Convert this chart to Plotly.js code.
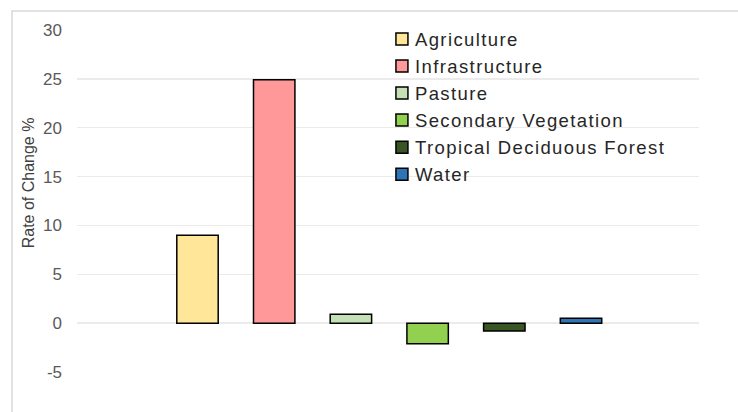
<!DOCTYPE html>
<html>
<head>
<meta charset="utf-8">
<script src="https://cdn.plot.ly/plotly-3.0.1.min.js"></script>
<style>
  html, body { margin: 0; padding: 0; background: #ffffff; }
  #chart { width: 738px; height: 412px; }
  .legendtext { letter-spacing: 1.4px; }
  g.legendsymbols { transform: translateX(7px); }
</style>
</head>
<body>
<div id="chart"></div>
<script>
// Land-cover classes and their rate of change (%)
const categories = ['Agriculture', 'Infrastructure', 'Pasture', 'Secondary Vegetation', 'Tropical Deciduous Forest', 'Water'];
const rateOfChange = [9.0, 24.9, 0.9, -2.1, -0.8, 0.5];
const barColors = ['#FFE699', '#FF9999', '#C5E0B4', '#92D050', '#375623', '#2E75B6'];
const yTicks = [-5, 0, 5, 10, 15, 20, 25, 30];
const yTitle = 'Rate of Change %';

const FONT = 'Liberation Sans, Arial, sans-serif';

// One trace per class so that each one gets its own legend entry
const traces = categories.map((name, i) => ({
  type: 'bar',
  name: name,
  x: [name],
  y: [rateOfChange[i]],
  width: 0.54,
  marker: { color: barColors[i], line: { color: '#000000', width: 1.5 } },
  hoverinfo: 'skip'
}));

const layout = {
  width: 738,
  height: 412,
  margin: { l: 77, r: 39, t: 30, b: 40 },
  paper_bgcolor: '#ffffff',
  plot_bgcolor: '#ffffff',
  barmode: 'overlay',
  showlegend: true,
  font: { family: FONT, color: '#404040' },
  xaxis: {
    type: 'category',
    categoryorder: 'array',
    categoryarray: categories,
    range: [-1.571, 6.538],
    showticklabels: false,
    showgrid: false,
    zeroline: false,
    showline: false,
    ticks: ''
  },
  yaxis: {
    range: [-5, 30],
    tickvals: yTicks,
    ticktext: yTicks.map(String),
    tickfont: { family: FONT, size: 17, color: '#595959' },
    ticklabelstandoff: 14,
    gridcolor: '#ebebeb',
    gridwidth: 1.5,
    zeroline: true,
    zerolinecolor: '#ebebeb',
    zerolinewidth: 1.5,
    showline: false,
    ticks: '',
    automargin: false
  },
  legend: {
    x: 0.479,
    y: 1.028,
    xanchor: 'left',
    yanchor: 'top',
    bgcolor: 'rgba(0,0,0,0)',
    font: { family: FONT, size: 18.5, color: '#262626' },
    traceorder: 'normal',
    itemclick: false,
    itemdoubleclick: false
  },
  annotations: [{
    // vertical axis title
    text: yTitle,
    xref: 'paper', yref: 'paper',
    x: -0.0786, y: 0.552,
    xanchor: 'center', yanchor: 'middle',
    textangle: -90,
    showarrow: false,
    font: { family: FONT, size: 16, color: '#404040' }
  }],
  shapes: [{
    // light chart-area frame
    type: 'rect',
    xref: 'paper', yref: 'paper',
    x0: -0.1045, x1: 1.3,
    y0: -0.3, y1: 1.0556,
    line: { color: '#d9d9d9', width: 1.5 },
    fillcolor: 'rgba(0,0,0,0)',
    layer: 'below'
  }]
};

Plotly.newPlot('chart', traces, layout, { displayModeBar: false, staticPlot: true });
</script>
</body>
</html>
